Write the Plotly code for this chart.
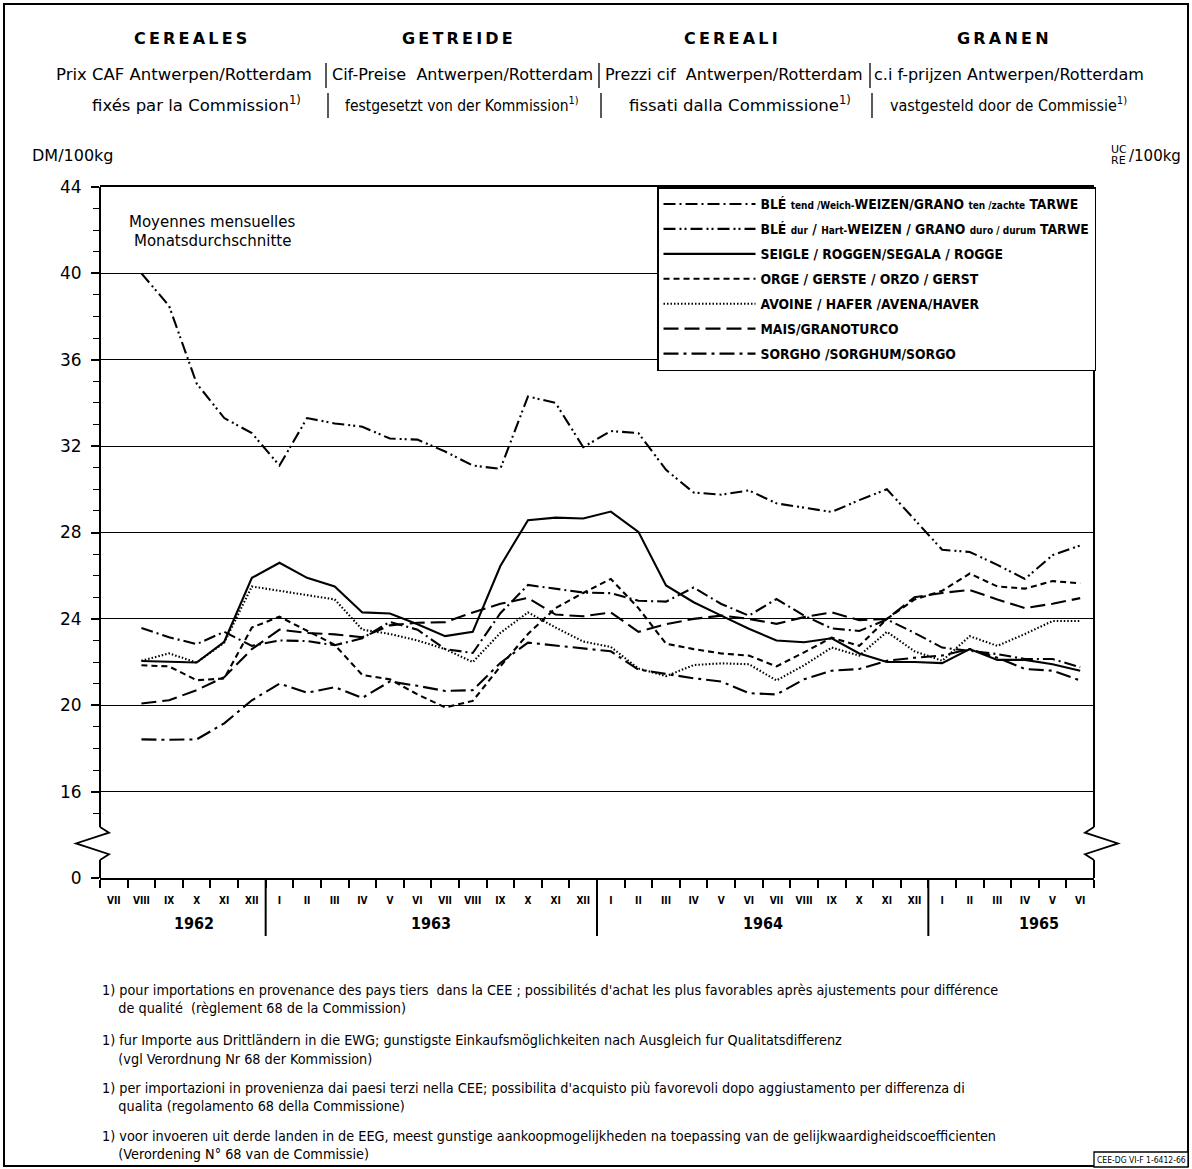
import plotly.graph_objects as go

# ---------------- data ----------------
months = ["VII", "VIII", "IX", "X", "XI", "XII",
          "I", "II", "III", "IV", "V", "VI", "VII", "VIII", "IX", "X", "XI", "XII",
          "I", "II", "III", "IV", "V", "VI", "VII", "VIII", "IX", "X", "XI", "XII",
          "I", "II", "III", "IV", "V", "VI"]
years = ["1962", "1963", "1964", "1965"]
year_pos = [3.4, 12, 24, 34]
year_sep = [6, 18, 30]

# monthly values VIII 1962 .. VI 1965 (DM/100kg)
ble_tendre = [23.58, 23.15, 22.83, 23.4, 22.75, 23.0, 22.97, 22.78, 23.1, 23.86,
              23.5, 22.6, 22.42, 24.26, 25.57, 25.4, 25.22, 25.19, 24.84, 24.8,
              25.45, 24.69, 24.15, 24.92, 24.15, 23.56, 23.44, 23.97, 23.35, 22.67,
              22.52, 22.37, 22.14, 22.14, 21.76]
ble_dur = [40.0, 38.5, 34.9, 33.3, 32.6, 31.1, 33.3, 33.05, 32.9, 32.35,
           32.3, 31.75, 31.1, 30.95, 34.3, 34.0, 31.95, 32.7, 32.6, 30.9,
           29.85, 29.75, 29.95, 29.35, 29.15, 28.95, 29.5, 30.0, 28.6, 27.2,
           27.1, 26.5, 25.85, 26.95, 27.4]
seigle = [22.05, 22.0, 21.98, 22.94, 25.9, 26.6, 25.9, 25.5, 24.3, 24.25,
          23.75, 23.2, 23.4, 26.45, 28.57, 28.69, 28.65, 28.97, 28.03, 25.55,
          24.77, 24.15, 23.54, 23.0, 22.92, 23.1, 22.4, 22.0, 22.0, 21.95,
          22.6, 22.1, 22.1, 21.9, 21.6]
orge = [21.85, 21.8, 21.16, 21.24, 23.6, 24.1, 23.45, 22.8, 21.4, 21.2,
        20.5, 19.9, 20.2, 21.8, 23.3, 24.5, 25.2, 25.85, 24.5, 22.85,
        22.6, 22.4, 22.3, 21.8, 22.45, 23.13, 22.75, 24.0, 24.9, 25.3,
        26.1, 25.5, 25.4, 25.75, 25.65]
avoine = [22.06, 22.4, 21.98, 22.9, 25.5, 25.3, 25.1, 24.9, 23.5, 23.3,
          23.0, 22.6, 22.0, 23.35, 24.3, 23.6, 22.95, 22.7, 21.7, 21.35,
          21.86, 21.94, 21.9, 21.15, 21.85, 22.67, 22.3, 23.4, 22.5, 22.06,
          23.2, 22.75, 23.3, 23.9, 23.9]
mais = [20.08, 20.23, 20.7, 21.3, 22.6, 23.5, 23.35, 23.28, 23.15, 23.7,
        23.82, 23.85, 24.3, 24.7, 24.97, 24.2, 24.12, 24.3, 23.4, 23.75,
        24.0, 24.15, 24.0, 23.77, 24.08, 24.3, 23.94, 24.0, 25.0, 25.2,
        25.34, 24.9, 24.5, 24.7, 24.96]
sorgho = [18.42, 18.4, 18.42, 19.16, 20.23, 21.0, 20.58, 20.84, 20.34, 21.1,
          20.9, 20.66, 20.7, 21.96, 22.9, 22.76, 22.65, 22.5, 21.65, 21.45,
          21.25, 21.1, 20.56, 20.5, 21.2, 21.6, 21.68, 22.06, 22.2, 22.3,
          22.6, 22.2, 21.68, 21.6, 21.15]

SM = "<span style='font-size:10px'>{}</span>"
names = [
    "BLÉ " + SM.format("tend /Weich-") + "WEIZEN/GRANO " + SM.format("ten /zachte") + " TARWE",
    "BLÉ " + SM.format("dur") + " / " + SM.format("Hart-") + "WEIZEN / GRANO " + SM.format("duro / durum") + " TARWE",
    "SEIGLE / ROGGEN/SEGALA / ROGGE",
    "ORGE / GERSTE / ORZO / GERST",
    "AVOINE / HAFER /AVENA/HAVER",
    "MAIS/GRANOTURCO",
    "SORGHO /SORGHUM/SORGO",
]
series = [ble_tendre, ble_dur, seigle, orge, avoine, mais, sorgho]
dashes = ["12px,4px,2px,4px", "12px,4px,2px,3px,2px,4px", "solid", "6px,4px",
          "1.5px,2px", "15px,6px", "15px,5px,3px,5px"]

# y-axis (DM) ticks; 0 is drawn at the break position 12
dm_ticks = [12, 16, 20, 24, 28, 32, 36, 40, 44]
dm_labels = ["0", "16", "20", "24", "28", "32", "36", "40", "44"]
uc_labels = ["0", "4", "5", "6", "7", "8", "9", "10", "11"]
minor_ticks = [15] + [v for v in range(17, 44) if v % 4 != 0]

FONT = "DejaVu Sans Condensed, Liberation Sans Narrow, DejaVu Sans, sans-serif"
FONTW = "DejaVu Sans, Liberation Sans, sans-serif"

# plot-area pixel frame for placing decorations
L, R, T, B = 100, 1094, 187, 878
W, H = R - L, B - T


def px(X):
    return (X - L) / W


def py(Y):
    return (B - Y) / H


x_first = 1  # first data month (VIII 1962)
xpos = [x_first + i + 0.5 for i in range(len(ble_dur))]

fig = go.Figure()
for nm, vals, dsh in zip(names, series, dashes):
    fig.add_trace(go.Scatter(x=xpos, y=vals, mode="lines", name=nm,
                             legendgroup=nm,
                             line=dict(color="black", width=2.1, dash=dsh)))

fig.update_layout(
    width=1192, height=1169,
    margin=dict(l=L, r=1192 - R, t=T, b=1169 - B),
    paper_bgcolor="white", plot_bgcolor="white",
    font=dict(family=FONT, color="black"),
    showlegend=True,
    legend=dict(x=px(657), y=1.0, xanchor="left", yanchor="top",
                bgcolor="white", bordercolor="black", borderwidth=1.5,
                font=dict(size=13.8, family=FONT, color="black", weight="bold"),
                itemwidth=92, tracegroupgap=4, itemclick=False),
    xaxis=dict(range=[0, 36], tickvals=[i + 0.5 for i in range(36)], ticktext=months,
               ticks="", showgrid=False, zeroline=False, showline=True, mirror=True,
               linecolor="black", linewidth=2,
               tickfont=dict(size=10, family=FONT, weight="bold"),
               ticklabelstandoff=12,
               minor=dict(tickvals=list(range(37)), ticks="outside", ticklen=8,
                          tickwidth=1.5, tickcolor="black", showgrid=False)),
    xaxis2=dict(overlaying="x", matches="x", range=[0, 36],
                tickvals=list(range(3, 36, 3)), showticklabels=False, ticks="",
                showgrid=True, gridcolor="black", gridwidth=1.3, zeroline=False,
                showline=False),
    yaxis=dict(range=[12, 44], tickvals=dm_ticks, ticktext=dm_labels,
               ticks="outside", ticklen=8, tickwidth=1.5, tickcolor="black",
               showgrid=True, gridcolor="black", gridwidth=1.3, zeroline=False,
               showline=False, tickfont=dict(size=17, family=FONTW),
               ticklabelstandoff=6,
               minor=dict(tickvals=minor_ticks, ticks="outside", ticklen=6,
                          tickwidth=1.3, tickcolor="black", showgrid=False)),
    yaxis2=dict(overlaying="y", matches="y", side="right", range=[12, 44],
                tickvals=dm_ticks, ticktext=uc_labels,
                ticks="outside", ticklen=8, tickwidth=1.5, tickcolor="black",
                showgrid=False, zeroline=False, showline=False,
                tickfont=dict(size=17, family=FONTW), ticklabelstandoff=6,
                minor=dict(tickvals=minor_ticks, ticks="outside", ticklen=6,
                           tickwidth=1.3, tickcolor="black", showgrid=False)),
)

shapes = []
# vertical axis lines with a break
brk_lo, brk_hi = 12.83, 14.36
for xa, sgn in ((0, 1), (1, -1)):
    shapes.append(dict(type="line", xref="paper", yref="y", x0=xa, x1=xa, y0=12, y1=brk_lo,
                       line=dict(color="black", width=2)))
    shapes.append(dict(type="line", xref="paper", yref="y", x0=xa, x1=xa, y0=brk_hi, y1=44,
                       line=dict(color="black", width=2)))
    b = 9 / W * sgn
    v = -24 / W * sgn
    path = (f"M {xa},{brk_lo} L {xa + b},{13.1} L {xa + v},{13.6} "
            f"L {xa + b},{14.1} L {xa},{brk_hi}")
    shapes.append(dict(type="path", xref="paper", yref="y", path=path,
                       line=dict(color="black", width=1.8)))
# white block behind the 'Moyennes mensuelles' label
shapes.append(dict(type="rect", xref="paper", yref="paper", x0=px(101), x1=px(320),
                   y0=py(258), y1=py(188), fillcolor="white", line=dict(width=0),
                   layer="between"))
# year separators below the axis
for s in year_sep:
    shapes.append(dict(type="line", xref="x", yref="paper", x0=s, x1=s, y0=0, y1=py(936),
                       line=dict(color="black", width=2)))
# separators in the header
for X in (326, 599, 870):
    shapes.append(dict(type="line", xref="paper", yref="paper", x0=px(X), x1=px(X),
                       y0=py(63), y1=py(88), line=dict(color="black", width=1.3)))
    shapes.append(dict(type="line", xref="paper", yref="paper", x0=px(X + 2), x1=px(X + 2),
                       y0=py(93), y1=py(118), line=dict(color="black", width=1.3)))
# outer frame
shapes.append(dict(type="rect", xref="paper", yref="paper", x0=px(4), x1=px(1188),
                   y0=py(1166), y1=py(4), line=dict(color="black", width=2)))
# reference box
shapes.append(dict(type="rect", xref="paper", yref="paper", x0=px(1094), x1=px(1188),
                   y0=py(1167), y1=py(1152), line=dict(color="black", width=1.3),
                   fillcolor="white"))

ann = []


def txt(X, Y, s, size=13, anchor="center", bold=False, fam=FONT):
    ann.append(dict(x=px(X), y=py(Y), xref="paper", yref="paper", text=s,
                    showarrow=False, xanchor=anchor, yanchor="middle",
                    font=dict(size=size, family=fam, color="black",
                              weight="bold" if bold else "normal")))


TH = "\u2009"
# headers
for X, s in ((190, "CEREALES"), (457, "GETREIDE"), (731, "CEREALI"), (1003, "GRANEN")):
    txt(X, 38, TH.join(s), size=16, bold=True, fam=FONTW)
txt(184, 75, "Prix CAF Antwerpen/Rotterdam", size=16.5, fam=FONTW)
txt(462, 75, "Cif-Preise  Antwerpen/Rotterdam", size=16, fam=FONTW)
txt(734, 75, "Prezzi cif  Antwerpen/Rotterdam", size=16, fam=FONTW)
txt(1009, 75, "c.i f-prijzen Antwerpen/Rotterdam", size=16, fam=FONTW)
txt(196, 104, "fixés par la Commission<sup>1)</sup>", size=16.5, fam=FONTW)
txt(462, 104, "festgesetzt von der Kommission<sup>1)</sup>", size=15.5, fam=FONT)
txt(740, 104, "fissati dalla Commissione<sup>1)</sup>", size=16.5, fam=FONTW)
txt(1008, 104, "vastgesteld door de Commissie<sup>1)</sup>", size=16, fam=FONT)

txt(30, 156, "DM/100kg", size=16, anchor="left", fam=FONTW)
txt(1109, 149, "UC", size=11, anchor="left", fam=FONTW)
txt(1109, 161, "RE", size=11, anchor="left", fam=FONTW)
txt(1127, 156, "/100kg", size=15, anchor="left", fam=FONTW)

txt(212, 222, "Moyennes mensuelles", size=15, fam=FONTW)
txt(212, 241, "Monatsdurchschnitte", size=15, fam=FONTW)

for yr, xp in zip(years, year_pos):
    ann.append(dict(x=xp, y=py(923), xref="x", yref="paper", text=yr, showarrow=False,
                    yanchor="middle",
                    font=dict(size=16, family=FONT, color="black", weight="bold")))

notes = [
    (990, "1) pour importations en provenance des pays tiers  dans la CEE ; possibilités d'achat les plus favorables après ajustements pour différence"),
    (1008, "    de qualité  (règlement 68 de la Commission)"),
    (1040, "1) fur Importe aus Drittländern in die EWG; gunstigste Einkaufsmöglichkeiten nach Ausgleich fur Qualitatsdifferenz"),
    (1059, "    (vgl Verordnung Nr 68 der Kommission)"),
    (1088, "1) per importazioni in provenienza dai paesi terzi nella CEE; possibilita d'acquisto più favorevoli dopo aggiustamento per differenza di"),
    (1106, "    qualita (regolamento 68 della Commissione)"),
    (1136, "1) voor invoeren uit derde landen in de EEG, meest gunstige aankoopmogelijkheden na toepassing van de gelijkwaardigheidscoefficienten"),
    (1154, "    (Verordening N° 68 van de Commissie)"),
]
for Y, s in notes:
    txt(100, Y, s.replace("  ", "&nbsp; "), size=14.3, anchor="left")

txt(1141, 1160, "CEE-DG VI-F 1-6412-66", size=8.5, fam=FONT)

fig.update_layout(shapes=shapes, annotations=ann)
fig.write_html("out.html",
               config={"displayModeBar": False},
               post_script="document.body.style.margin='0';document.body.style.padding='0';"
                           "document.body.style.overflow='hidden';")
